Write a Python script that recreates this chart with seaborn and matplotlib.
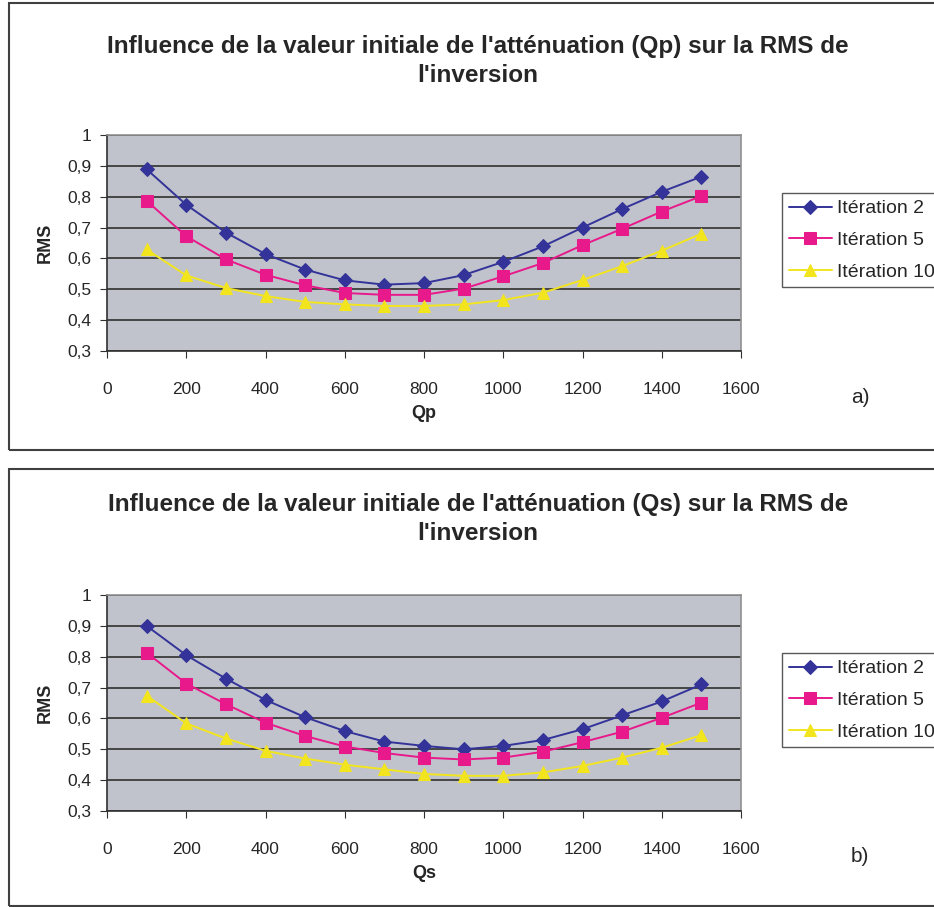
import numpy as np
import pandas as pd
import seaborn as sns
import matplotlib
matplotlib.use('Agg')
import matplotlib.pyplot as plt
from matplotlib.patches import Rectangle

# x values (initial attenuation) shared by both panels
q_vals = [100, 200, 300, 400, 500, 600, 700, 800, 900, 1000, 1100, 1200, 1300, 1400, 1500]

# panel a) Qp
qp_iter2 = [0.889, 0.774, 0.684, 0.614, 0.564, 0.529, 0.515, 0.520, 0.546, 0.589, 0.639, 0.700, 0.760, 0.816, 0.865]
qp_iter5 = [0.787, 0.672, 0.597, 0.547, 0.513, 0.488, 0.482, 0.482, 0.502, 0.542, 0.585, 0.643, 0.696, 0.752, 0.802]
qp_iter10 = [0.629, 0.545, 0.504, 0.478, 0.459, 0.451, 0.446, 0.446, 0.451, 0.465, 0.489, 0.530, 0.575, 0.625, 0.680]

# panel b) Qs
qs_iter2 = [0.900, 0.805, 0.729, 0.660, 0.604, 0.559, 0.525, 0.511, 0.500, 0.511, 0.530, 0.565, 0.610, 0.655, 0.710]
qs_iter5 = [0.813, 0.713, 0.646, 0.586, 0.543, 0.509, 0.488, 0.473, 0.467, 0.473, 0.492, 0.523, 0.557, 0.602, 0.651]
qs_iter10 = [0.674, 0.584, 0.535, 0.495, 0.470, 0.450, 0.435, 0.420, 0.414, 0.414, 0.425, 0.446, 0.473, 0.505, 0.546]

series_names = ['Itération 2', 'Itération 5', 'Itération 10']
x_ticks = [0, 200, 400, 600, 800, 1000, 1200, 1400, 1600]
y_ticks = [0.3, 0.4, 0.5, 0.6, 0.7, 0.8, 0.9, 1.0]
y_ticklabels = ['0,3', '0,4', '0,5', '0,6', '0,7', '0,8', '0,9', '1']

titles = ["Influence de la valeur initiale de l'atténuation (Qp) sur la RMS de\nl'inversion",
          "Influence de la valeur initiale de l'atténuation (Qs) sur la RMS de\nl'inversion"]
xlabels = ['Qp', 'Qs']
tags = ['a)', 'b)']

sns.set_style('white')
plt.rcParams['font.family'] = ['Liberation Sans', 'DejaVu Sans']

colors = {'Itération 2': '#333399', 'Itération 5': '#E8198B', 'Itération 10': '#F2E51E'}
markers = {'Itération 2': 'D', 'Itération 5': 's', 'Itération 10': '^'}
msizes = {'Itération 2': 7, 'Itération 5': 8, 'Itération 10': 9}


def long_frame(a, b, c):
    rows = []
    for name, vals in zip(series_names, [a, b, c]):
        for q, v in zip(q_vals, vals):
            rows.append({'Q': q, 'RMS': v, 'serie': name})
    return pd.DataFrame(rows)


W, H = 934, 907
fig = plt.figure(figsize=(W / 100, H / 100), dpi=100)

# panel borders
for (y0, y1) in [(3, 450), (469, 906)]:
    fig.patches.append(Rectangle((9 / W, 1 - y1 / H), 1.0, (y1 - y0) / H,
                                 transform=fig.transFigure, fill=False,
                                 edgecolor='#404040', linewidth=1.5))

panels = [(long_frame(qp_iter2, qp_iter5, qp_iter10), 135, 351, 61),
          (long_frame(qs_iter2, qs_iter5, qs_iter10), 595, 811, 519)]

for i, (df, top, bot, title_y) in enumerate(panels):
    ax = fig.add_axes([107 / W, 1 - bot / H, (741 - 107) / W, (bot - top) / H])
    ax.set_facecolor('#C0C3CB')
    for name in series_names:
        sub = df[df['serie'] == name]
        sns.lineplot(data=sub, x='Q', y='RMS', ax=ax, color=colors[name],
                     marker=markers[name], markersize=msizes[name],
                     markeredgecolor=colors[name], linewidth=1.4, label=name)
    ax.set_xlim(0, 1600)
    ax.set_ylim(0.3, 1.0)
    ax.set_xticks(x_ticks)
    ax.set_yticks(y_ticks)
    ax.set_yticklabels(y_ticklabels)
    ax.yaxis.grid(True, color='#303030', linewidth=1.2)
    ax.set_axisbelow(True)
    ax.tick_params(axis='both', labelsize=12.5, length=5, direction='out',
                   color='#303030', bottom=True, left=True)
    ax.tick_params(axis='x', pad=17)
    ax.tick_params(axis='y', pad=6)
    for s in ['left', 'bottom']:
        ax.spines[s].set_color('#303030')
        ax.spines[s].set_linewidth(1.2)
    for s in ['top', 'right']:
        ax.spines[s].set_color('#909090')
        ax.spines[s].set_linewidth(1.2)
    ax.set_xlabel(xlabels[i], fontsize=13, fontweight='bold', labelpad=6)
    ax.set_ylabel('RMS', fontsize=13, fontweight='bold', labelpad=10)

    leg = ax.legend(loc='upper left', bbox_to_anchor=(782 / W, 1 - (top + 58) / H),
                    bbox_transform=fig.transFigure, fontsize=14, frameon=True,
                    fancybox=False, edgecolor='#303030', handlelength=2.2,
                    borderpad=0.35, labelspacing=0.72, handletextpad=0.26,
                    borderaxespad=0)
    leg.get_frame().set_linewidth(1.0)

    fig.text(478 / W, 1 - title_y / H, titles[i], ha='center', va='center',
             fontsize=17.5, fontweight='bold', linespacing=1.37)
    fig.text(860 / W, 1 - (bot + 46) / H, tags[i], ha='center', va='center',
             fontsize=15)

plt.savefig('out.png', dpi=100)
